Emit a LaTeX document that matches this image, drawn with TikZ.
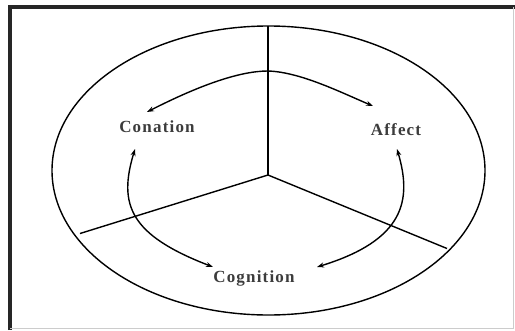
\documentclass[tikz,border=0pt]{standalone}
\usepackage{fontspec}
\setmainfont{Liberation Serif}
\usetikzlibrary{arrows.meta}
\definecolor{txtgray}{RGB}{60,60,60}
\tikzset{
  line/.style={draw=black, line width=1.4pt},
  arr/.style={draw=black, line width=1.4pt, {Stealth[length=7pt,width=5pt]}-{Stealth[length=7pt,width=5pt]}},
  lbl/.style={font=\bfseries\fontsize{17}{19}\selectfont\addfontfeature{LetterSpace=7}, text=txtgray, inner sep=1pt}
}
\begin{document}
\begin{tikzpicture}[x=1pt,y=-1pt]
\useasboundingbox (0,0) rectangle (515,330);
% frame
\draw[line width=3.2pt, black!85] (10,330) -- (10,7) -- (515,7);
\draw[line width=0.6pt, black!20] (10,328) -- (513,328) -- (513,7);
% circle
\coordinate (c) at (268.5,170.5);
\draw[line] (c) ellipse [x radius=216.5, y radius=144.5];
% Y lines
\coordinate (o) at (268,175);
\coordinate (t) at (268,26);
\coordinate (l) at (80,233.5);
\coordinate (r) at (447,248.5);
\draw[line] (t) -- (o);
\draw[line] (o) -- (l);
\draw[line] (o) -- (r);
% labels
\node[lbl] (con) at (157,127) {Conation};
\node[lbl] (aff) at (396,130) {Affect};
\node[lbl] (cog) at (254,278) {Cognition};
% arrows
\coordinate (pk) at (268,71);
\coordinate (ca) at (147,112);
\coordinate (aa) at (373,106);
\draw[arr] (ca) .. controls (200,85) and (240,71) .. (pk) .. controls (300,72) and (340,92) .. (aa);
\coordinate (c1) at (135,149);
\coordinate (g1) at (213,267);
\draw[arr] (c1) .. controls (118,205) and (130,235) .. (g1);
\coordinate (a1) at (397,149);
\coordinate (g2) at (317,267);
\draw[arr] (a1) .. controls (412,200) and (405,240) .. (g2);
\end{tikzpicture}
\end{document}
